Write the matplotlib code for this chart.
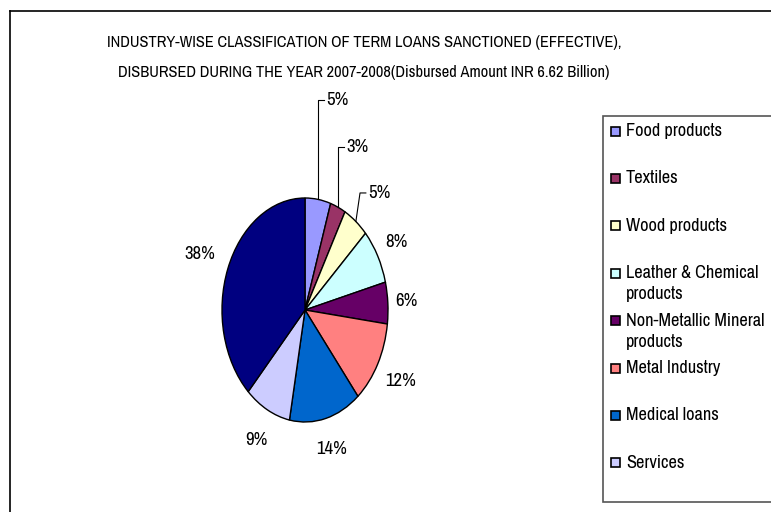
import numpy as np
import matplotlib
matplotlib.use('Agg')
import matplotlib.pyplot as plt
from matplotlib.patches import Rectangle
from matplotlib.lines import Line2D

# data
categories = ['Food products', 'Textiles', 'Wood products',
              'Leather & Chemical\nproducts', 'Non-Metallic Mineral\nproducts',
              'Metal Industry', 'Medical loans', 'Services', 'Others']
shares = [5, 3, 5, 8, 6, 12, 14, 9, 38]
colors = ['#9999FF', '#993366', '#FFFFCC', '#CCFFFF', '#660066',
          '#FF8080', '#0066CC', '#CCCCFF', '#000080']
legend_count = 8  # the last entry is cut off in the original

plt.rcParams['font.family'] = ['Archivo Narrow', 'Liberation Sans', 'DejaVu Sans']

W, H = 771, 512
fig = plt.figure(figsize=(W / 100, H / 100), dpi=100)

# outer frame (only top and left are visible in the crop)
fig.add_artist(Line2D([9.5 / W, 9.5 / W], [0, 1 - 11 / H], color='black', lw=1.2))
fig.add_artist(Line2D([9.5 / W, 1], [1 - 11 / H, 1 - 11 / H], color='black', lw=1.2))

# title
fig.text(364 / W, 1 - 43 / H,
         'INDUSTRY-WISE CLASSIFICATION OF TERM LOANS SANCTIONED (EFFECTIVE),',
         ha='center', va='center', fontsize=11.8)
fig.text(364 / W, 1 - 73 / H,
         'DISBURSED DURING THE YEAR 2007-2008(Disbursed Amount INR 6.62 Billion)',
         ha='center', va='center', fontsize=11.8)

# pie axes: stretched ellipse like the original
cx, cy, rx, ry = 305, 310, 83, 112
ax = fig.add_axes([(cx - rx) / W, 1 - (cy + ry) / H, 2 * rx / W, 2 * ry / H])
wedges, _ = ax.pie(shares, colors=colors, startangle=90, counterclock=False,
                   wedgeprops=dict(edgecolor='black', linewidth=1))
ax.set_aspect('auto')
ax.set_xlim(-1, 1)
ax.set_ylim(-1, 1)
ax.axis('off')

# percentage labels
total = sum(shares)
leader_h = [1.875, 1.455, 1.045]          # leader heights for the three small slices
label_r = [None, None, None, 1.26, 1.22, 1.31, 1.28, 1.3, 1.36]
cum = 0
for i, v in enumerate(shares):
    mid = np.deg2rad(90 - (cum + v / 2) / total * 360)
    cum += v
    txt = f'{round(v / total * 100)}%'
    x0, y0 = np.cos(mid), np.sin(mid)
    if i < len(leader_h):
        yh = leader_h[i]
        bend = 0.05 if i == 2 else 0
        ax.plot([x0, x0 + bend, x0 + 0.07 + bend], [y0, yh, yh],
                color='black', lw=0.8, clip_on=False)
        ax.text(x0 + 0.1 + bend, yh, txt, ha='left', va='center',
                fontsize=13.5, clip_on=False)
    else:
        r = label_r[i]
        ax.text(r * x0, r * y0, txt, ha='center', va='center', fontsize=13.5,
                clip_on=False)

# legend box drawn by hand (right side cut off in the original)
fig.add_artist(Rectangle((603 / W, 1 - 502 / H), 0.5, (502 - 116) / H,
                         transform=fig.transFigure, facecolor='white',
                         edgecolor='#555555', lw=1.2))
for i in range(legend_count):
    y = 131 + i * 47.4
    fig.add_artist(Rectangle((611 / W, 1 - (y + 4.5) / H), 9 / W, 9 / H,
                             transform=fig.transFigure, facecolor=colors[i],
                             edgecolor='black', lw=1.2))
    lines = categories[i].split('\n')
    for j, line in enumerate(lines):
        fig.text(626 / W, 1 - (y + j * 21) / H, line, ha='left', va='center',
                 fontsize=13.2)

fig.savefig('out.png', dpi=100)
